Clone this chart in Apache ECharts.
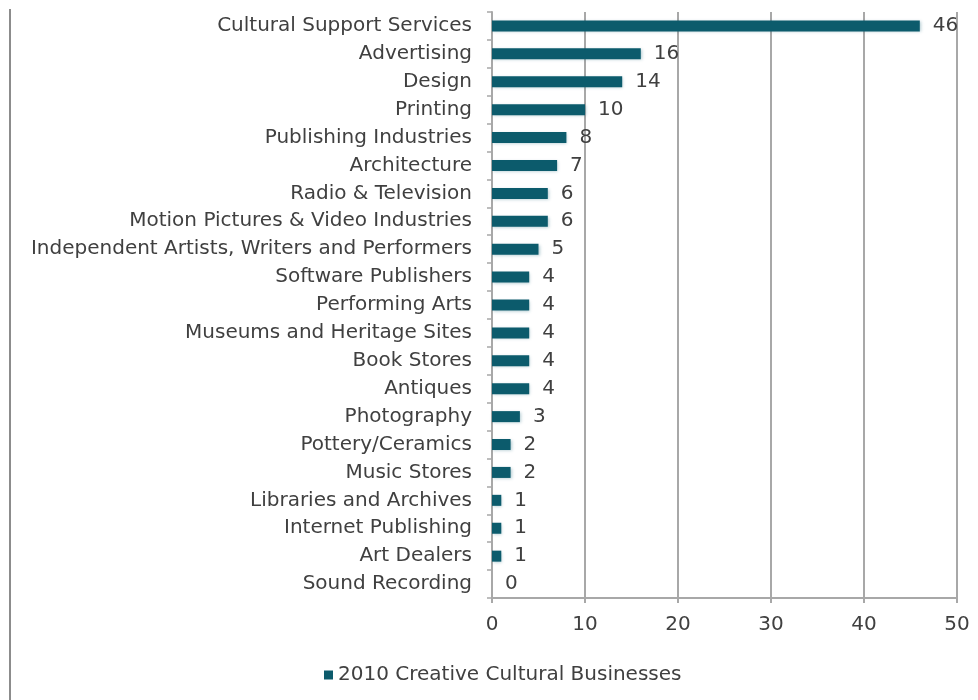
<!DOCTYPE html>
<html>
<head>
<meta charset="utf-8">
<script src="https://cdn.jsdelivr.net/npm/echarts@6/dist/echarts.min.js"></script>
<style>
  html, body { margin: 0; padding: 0; background: #fff; }
  #chart { width: 978px; height: 700px; }
</style>
</head>
<body>
<div id="chart"></div>
<script>
// Creative cultural businesses by sector, 2010
const categories = [
  'Cultural Support Services',
  'Advertising',
  'Design',
  'Printing',
  'Publishing Industries',
  'Architecture',
  'Radio & Television',
  'Motion Pictures & Video Industries',
  'Independent Artists, Writers and Performers',
  'Software Publishers',
  'Performing Arts',
  'Museums and Heritage Sites',
  'Book Stores',
  'Antiques',
  'Photography',
  'Pottery/Ceramics',
  'Music Stores',
  'Libraries and Archives',
  'Internet Publishing',
  'Art Dealers',
  'Sound Recording'
];
const businesses2010 = [46, 16, 14, 10, 8, 7, 6, 6, 5, 4, 4, 4, 4, 4, 3, 2, 2, 1, 1, 1, 0];
const seriesName = '2010 Creative Cultural Businesses';
const xTicks = { min: 0, max: 50, interval: 10 };

const textColor = '#404040';
const gridColor = '#a8a8a8';
const barColor = '#0c5b6c';
const fontFamily = '"DejaVu Sans", "Liberation Sans", Arial, sans-serif';
const fontSize = 20;

const chart = echarts.init(document.getElementById('chart'), null, { renderer: 'canvas' });

chart.setOption({
  animation: false,
  backgroundColor: '#ffffff',
  textStyle: { fontFamily: fontFamily },
  grid: { left: 492, right: 21, top: 12, bottom: 102, containLabel: false },
  legend: {
    data: [seriesName],
    left: 319,
    top: 660,
    icon: 'rect',
    itemWidth: 9,
    itemHeight: 9,
    textStyle: { color: textColor, fontSize: fontSize, fontFamily: fontFamily }
  },
  xAxis: {
    type: 'value',
    min: xTicks.min,
    max: xTicks.max,
    interval: xTicks.interval,
    axisLine: { show: true, lineStyle: { color: gridColor, width: 2 } },
    axisTick: { show: true, length: 5, lineStyle: { color: gridColor, width: 2 } },
    axisLabel: { color: textColor, fontSize: fontSize, margin: 17, fontFamily: fontFamily },
    splitLine: { show: true, lineStyle: { color: gridColor, width: 2 } }
  },
  yAxis: {
    type: 'category',
    inverse: true,
    data: categories,
    axisLine: { show: true, lineStyle: { color: gridColor, width: 2 } },
    axisTick: { show: true, length: 5, alignWithLabel: false, lineStyle: { color: gridColor, width: 1.5 } },
    axisLabel: { color: textColor, fontSize: fontSize, margin: 20, fontFamily: fontFamily },
    splitLine: { show: false }
  },
  series: [{
    name: seriesName,
    type: 'bar',
    data: businesses2010,
    barWidth: 11,
    itemStyle: {
      color: barColor,
      shadowColor: 'rgba(40, 110, 130, 0.35)',
      shadowBlur: 3,
      shadowOffsetX: 1,
      shadowOffsetY: 1
    },
    label: {
      show: true,
      position: 'right',
      distance: 13,
      color: textColor,
      fontSize: fontSize,
      fontFamily: fontFamily
    }
  }],
  graphic: [{
    type: 'line',
    shape: { x1: 10, y1: 9, x2: 10, y2: 700 },
    style: { stroke: '#8c8c8c', lineWidth: 2 },
    silent: true
  }]
});
</script>
</body>
</html>
